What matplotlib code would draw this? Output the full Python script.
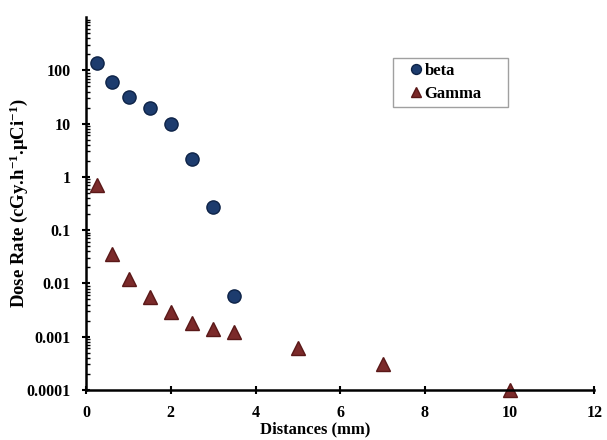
import matplotlib
matplotlib.use('Agg')
import matplotlib.pyplot as plt

plt.rcParams['font.family'] = ['Liberation Serif', 'DejaVu Serif']
plt.rcParams['font.weight'] = 'bold'
plt.rcParams['mathtext.fontset'] = 'custom'
plt.rcParams['mathtext.rm'] = 'Liberation Serif:bold'
plt.rcParams['mathtext.default'] = 'rm'

# beta source
beta_x = [0.25, 0.6, 1, 1.5, 2, 2.5, 3, 3.5]
beta_y = [135, 60, 31, 20, 9.7, 2.2, 0.27, 0.0058]

# gamma source
gamma_x = [0.25, 0.6, 1, 1.5, 2, 2.5, 3, 3.5, 5, 7, 10]
gamma_y = [0.69, 0.035, 0.012, 0.0055, 0.0029, 0.0018, 0.0014, 0.0012, 0.0006, 0.0003, 0.0001]

y_ticks = [0.0001, 0.001, 0.01, 0.1, 1, 10, 100]
y_labels = ['0.0001', '0.001', '0.01', '0.1', '1', '10', '100']
x_ticks = [0, 2, 4, 6, 8, 10, 12]

fig = plt.figure(figsize=(6.07, 4.4), dpi=100)
ax = fig.add_axes([0.142, 0.114, 0.837, 0.847])

ax.plot(beta_x, beta_y, 'o', color='#1d3c6e', markeredgecolor='#0e2347',
        markersize=9.5, label='beta', clip_on=False)
ax.plot(gamma_x, gamma_y, '^', color='#7b2a2a', markeredgecolor='#5a1818',
        markersize=9.5, label='Gamma', clip_on=False)

ax.set_yscale('log')
ax.set_ylim(0.0001, 1000)
ax.set_xlim(0, 12)
ax.set_yticks(y_ticks)
ax.set_yticklabels(y_labels)
ax.set_xticks(x_ticks)

for s in ['top', 'right']:
    ax.spines[s].set_visible(False)
for s in ['left', 'bottom']:
    ax.spines[s].set_linewidth(1.8)

ax.tick_params(axis='both', which='major', direction='inout', length=6, width=1.5,
               labelsize=11.5, pad=8)
ax.tick_params(axis='y', which='minor', direction='in', length=3, width=1)

ax.set_xlabel('Distances (mm)', fontsize=12, fontweight='bold')
ax.xaxis.set_label_coords(0.45, -0.085)
ax.set_ylabel('Dose Rate (cGy.h$^{-1}$.μCi$^{-1}$)', fontsize=13.5, fontweight='bold')
ax.yaxis.set_label_coords(-0.11, 0.5)

leg = ax.legend(loc='upper left', bbox_to_anchor=(0.604, 0.891, 0.226, 0), mode='expand',
                frameon=True, fancybox=False, edgecolor='#888888', fontsize=12,
                markerscale=0.75, handlelength=2.1, handletextpad=-0.5, borderpad=0.3,
                labelspacing=0.45, borderaxespad=0)
leg.get_frame().set_linewidth(1.0)
for t in leg.get_texts():
    t.set_fontweight('bold')

fig.savefig('out.png', dpi=100)
